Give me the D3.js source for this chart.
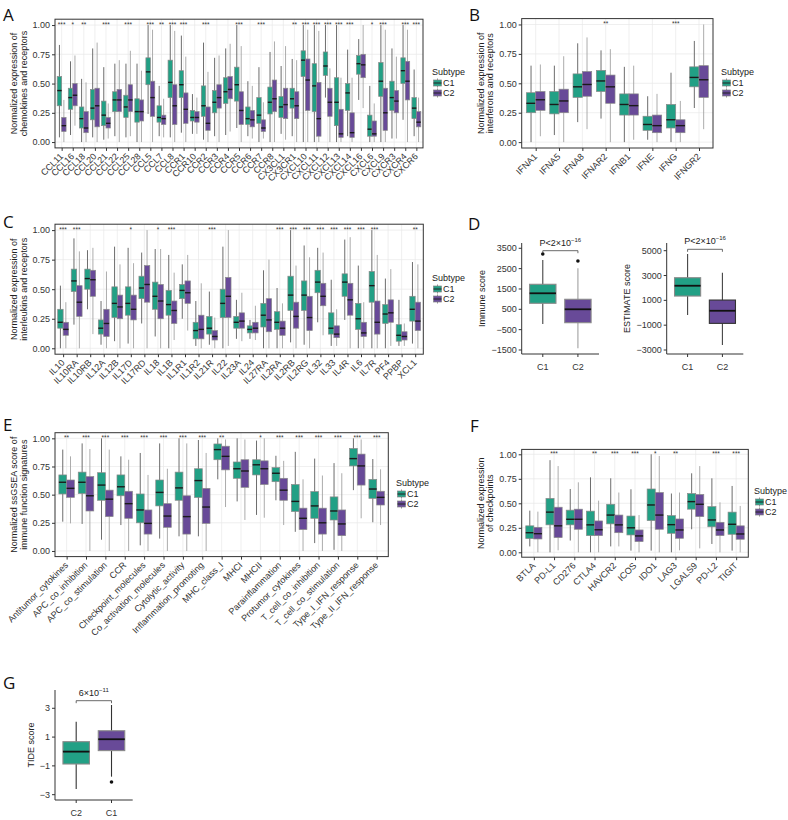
<!DOCTYPE html>
<html><head><meta charset="utf-8">
<script src="https://cdn.jsdelivr.net/npm/d3@7"></script>
<style>
body{margin:0;background:#fff}
svg{display:block}
text{font-family:"Liberation Sans",Arial,Helvetica,sans-serif}
</style>
</head><body>
<svg id="fig" width="788" height="820"></svg>
<script>
// ---------------- DATA ----------------
// each stat = [lower whisker, Q1, median, Q3, upper whisker]
const chemoCats = ["CCL11","CCL16","CCL18","CCL20","CCL21","CCL22","CCL25","CCL28","CCL5","CCL7","CCL8","CCR1","CCR10","CCR2","CCR3","CCR4","CCR5","CCR6","CCR7","CCR8","CX3CL1","CX3CR1","CXCL10","CXCL11","CXCL12","CXCL13","CXCL14","CXCL16","CXCL6","CXCL9","CXCR3","CXCR4","CXCR6"];
const chemoC1 = [[0.04,0.31,0.44,0.56,0.83],[0.06,0.28,0.38,0.46,0.69],[0.0,0.12,0.20,0.30,0.54],[0.04,0.19,0.29,0.45,0.80],[0.02,0.14,0.23,0.35,0.64],[0.05,0.26,0.36,0.43,0.67],[0.04,0.21,0.30,0.40,0.67],[0.0,0.17,0.26,0.37,0.67],[0.24,0.49,0.60,0.72,1.0],[0.05,0.17,0.21,0.31,0.48],[0.04,0.38,0.51,0.70,1.0],[0.08,0.38,0.49,0.61,0.91],[0.07,0.18,0.21,0.27,0.41],[0.02,0.22,0.31,0.48,0.85],[0.05,0.25,0.34,0.44,0.72],[0.06,0.33,0.43,0.55,0.80],[0.12,0.35,0.49,0.64,1.0],[0.05,0.15,0.20,0.30,0.52],[0.0,0.16,0.23,0.38,0.64],[0.0,0.24,0.34,0.47,0.77],[0.07,0.21,0.30,0.39,0.65],[0.05,0.29,0.37,0.46,0.71],[0.0,0.56,0.70,0.78,1.0],[0.0,0.26,0.48,0.67,1.0],[0.38,0.57,0.65,0.77,1.0],[0.0,0.14,0.34,0.55,1.0],[0.05,0.27,0.42,0.50,0.79],[0.36,0.58,0.67,0.74,0.88],[0.0,0.05,0.11,0.23,0.48],[0.0,0.39,0.52,0.68,1.0],[0.03,0.27,0.38,0.52,0.80],[0.19,0.50,0.61,0.72,1.0],[0.05,0.20,0.29,0.38,0.62]];
const chemoC2 = [[0.0,0.09,0.14,0.21,0.36],[0.14,0.31,0.40,0.50,0.74],[0.0,0.08,0.12,0.26,0.51],[0.0,0.13,0.31,0.46,0.85],[0.03,0.12,0.16,0.21,0.33],[0.0,0.26,0.36,0.45,0.70],[0.05,0.26,0.36,0.49,0.78],[0.0,0.18,0.26,0.36,0.61],[0.0,0.22,0.38,0.52,0.96],[0.04,0.15,0.20,0.23,0.37],[0.0,0.15,0.31,0.49,0.95],[0.0,0.16,0.28,0.42,0.73],[0.07,0.17,0.21,0.26,0.38],[0.0,0.10,0.16,0.30,0.60],[0.0,0.29,0.38,0.49,0.74],[0.09,0.37,0.45,0.56,0.84],[0.0,0.15,0.27,0.43,0.82],[0.03,0.13,0.19,0.27,0.48],[0.03,0.09,0.12,0.19,0.34],[0.0,0.26,0.37,0.53,0.86],[0.02,0.20,0.32,0.46,0.82],[0.0,0.20,0.31,0.43,0.70],[0.0,0.27,0.53,0.71,0.96],[0.0,0.05,0.20,0.51,0.95],[0.0,0.22,0.34,0.46,0.63],[0.0,0.04,0.07,0.28,0.55],[0.0,0.04,0.08,0.25,0.55],[0.29,0.55,0.66,0.75,1.0],[0.0,0.05,0.07,0.18,0.33],[0.0,0.10,0.25,0.46,0.96],[0.03,0.25,0.35,0.44,0.73],[0.0,0.36,0.52,0.69,0.96],[0.0,0.13,0.17,0.26,0.38]];
const chemoSig = ["***","*","**","","***","","***","","***","**","***","***","","***","","","***","","***","","","**","***","***","***","***","***","","*","***","","***","***"];

const ifnCats = ["IFNA1","IFNA5","IFNA8","IFNAR2","IFNB1","IFNE","IFNG","IFNGR2"];
const ifnC1 = [[0.0,0.25,0.33,0.42,0.65],[0.06,0.24,0.32,0.43,0.65],[0.17,0.38,0.47,0.58,0.84],[0.20,0.43,0.52,0.61,0.78],[0.0,0.23,0.32,0.41,0.64],[0.02,0.10,0.15,0.22,0.39],[0.0,0.12,0.19,0.32,0.59],[0.29,0.47,0.55,0.64,0.86]];
const ifnC2 = [[0.05,0.27,0.36,0.43,0.66],[0.0,0.25,0.35,0.45,0.73],[0.11,0.39,0.49,0.60,0.89],[0.0,0.33,0.47,0.57,0.79],[0.02,0.23,0.31,0.41,0.65],[0.0,0.08,0.14,0.23,0.41],[0.0,0.08,0.14,0.19,0.35],[0.11,0.38,0.53,0.65,1.0]];
const ifnSig = ["","","","**","","","***",""];

const ilCats = ["IL10","IL10RA","IL10RB","IL12A","IL12B","IL17D","IL17RD","IL18","IL1B","IL1R1","IL1R2","IL21R","IL22","IL23A","IL24","IL27RA","IL2RA","IL2RB","IL2RG","IL32","IL33","IL4R","IL6","IL7R","PF4","PPBP","XCL1"];
const ilC1 = [[0.0,0.17,0.22,0.33,0.53],[0.20,0.48,0.57,0.67,0.93],[0.33,0.50,0.59,0.67,0.83],[0.03,0.12,0.17,0.24,0.40],[0.06,0.26,0.38,0.52,0.86],[0.04,0.28,0.38,0.52,0.85],[0.21,0.42,0.51,0.61,0.81],[0.10,0.33,0.44,0.56,0.84],[0.0,0.28,0.37,0.49,0.79],[0.25,0.42,0.49,0.54,0.71],[0.02,0.08,0.15,0.22,0.40],[0.03,0.12,0.17,0.27,0.48],[0.0,0.26,0.38,0.50,0.86],[0.08,0.17,0.22,0.27,0.41],[0.08,0.13,0.16,0.19,0.24],[0.0,0.18,0.28,0.38,0.66],[0.0,0.16,0.22,0.31,0.51],[0.05,0.32,0.45,0.61,1.0],[0.03,0.32,0.45,0.57,0.87],[0.22,0.47,0.56,0.66,0.85],[0.02,0.12,0.17,0.30,0.58],[0.24,0.44,0.56,0.63,0.92],[0.0,0.16,0.25,0.38,0.70],[0.0,0.39,0.53,0.65,1.0],[0.0,0.21,0.29,0.37,0.59],[0.02,0.06,0.11,0.20,0.41],[0.04,0.23,0.33,0.44,0.73]];
const ilC2 = [[0.0,0.11,0.16,0.22,0.39],[0.0,0.27,0.39,0.53,0.82],[0.12,0.44,0.58,0.66,0.85],[0.0,0.10,0.21,0.33,0.65],[0.0,0.25,0.35,0.45,0.71],[0.0,0.24,0.33,0.45,0.72],[0.0,0.39,0.54,0.70,1.0],[0.0,0.25,0.40,0.54,0.84],[0.07,0.21,0.32,0.40,0.64],[0.15,0.38,0.47,0.57,0.79],[0.0,0.08,0.16,0.28,0.55],[0.0,0.07,0.10,0.15,0.26],[0.02,0.26,0.44,0.60,1.0],[0.06,0.17,0.23,0.30,0.47],[0.07,0.13,0.17,0.22,0.36],[0.0,0.14,0.24,0.42,0.75],[0.0,0.11,0.17,0.23,0.38],[0.0,0.17,0.27,0.39,0.70],[0.0,0.15,0.26,0.44,0.77],[0.11,0.36,0.44,0.55,0.81],[0.02,0.09,0.12,0.19,0.33],[0.0,0.28,0.41,0.55,0.94],[0.0,0.10,0.13,0.22,0.39],[0.0,0.12,0.22,0.40,0.79],[0.02,0.22,0.30,0.41,0.67],[0.02,0.07,0.10,0.14,0.21],[0.0,0.15,0.23,0.39,0.71]];
const ilSig = ["***","***","","","","*","","*","***","","","***","","","","","***","***","***","***","***","***","***","***","","","**"];

const immCats = ["Antitumor_cytokines","APC_co_inhibition","APC_co_stimulation","CCR","Checkpoint_molecules","Co_activation_molecules","Cytolytic_activity","Inflammation_promoting","MHC_class_I","MHCI","MHCII","Parainflammation","Protumor_cytokines","T_cell_co_inhibition","T_cell_co_stimulation","Type_I_IFN_response","Type_II_IFN_response"];
const immC1 = [[0.26,0.506,0.61,0.675,0.90],[0.24,0.51,0.61,0.70,0.955],[0.10,0.45,0.585,0.695,1.0],[0.23,0.49,0.57,0.675,0.84],[0.05,0.25,0.364,0.506,0.87],[0.11,0.40,0.52,0.63,0.955],[0.13,0.45,0.56,0.70,1.0],[0.13,0.475,0.625,0.73,0.985],[0.636,0.81,0.90,0.95,1.0],[0.44,0.645,0.73,0.79,1.0],[0.32,0.675,0.765,0.81,0.98],[0.45,0.615,0.69,0.74,0.845],[0.17,0.35,0.44,0.59,0.88],[0.07,0.29,0.40,0.527,0.82],[0.01,0.275,0.355,0.48,0.78],[0.54,0.755,0.82,0.91,1.0],[0.255,0.467,0.55,0.636,0.816]];
const immC2 = [[0.245,0.476,0.556,0.63,0.84],[0.0,0.355,0.49,0.66,0.905],[0.0,0.305,0.46,0.54,0.90],[0.0,0.29,0.42,0.53,0.81],[0.0,0.15,0.245,0.364,0.675],[0.0,0.21,0.31,0.42,0.73],[0.0,0.15,0.305,0.49,0.955],[0.0,0.245,0.39,0.556,0.87],[0.39,0.72,0.84,0.93,0.99],[0.275,0.565,0.71,0.81,0.99],[0.295,0.59,0.73,0.80,1.0],[0.23,0.45,0.54,0.645,0.80],[0.0,0.19,0.29,0.38,0.636],[0.0,0.15,0.25,0.38,0.67],[0.0,0.136,0.24,0.364,0.69],[0.29,0.585,0.755,0.86,0.99],[0.23,0.408,0.476,0.53,0.725]];
const immSig = ["**","***","***","***","***","***","***","***","**","","*","***","***","***","***","***","***"];

const ckCats = ["BTLA","PD-L1","CD276","CTLA4","HAVCR2","ICOS","IDO1","LAG3","LGALS9","PD-L2","TIGIT"];
const ckC1 = [[0.06,0.14,0.20,0.27,0.425],[0.0,0.28,0.41,0.55,0.94],[0.12,0.28,0.337,0.43,0.646],[0.0,0.17,0.28,0.42,0.765],[0.06,0.29,0.38,0.49,0.755],[0.017,0.177,0.25,0.37,0.643],[0.017,0.323,0.483,0.646,1.0],[0.0,0.194,0.282,0.374,0.60],[0.235,0.44,0.517,0.60,0.806],[0.085,0.26,0.33,0.466,0.755],[0.017,0.184,0.286,0.41,0.677]];
const ckC2 = [[0.0,0.136,0.19,0.255,0.415],[0.02,0.15,0.27,0.46,0.88],[0.0,0.235,0.337,0.44,0.714],[0.0,0.17,0.23,0.32,0.527],[0.06,0.20,0.28,0.38,0.61],[0.0,0.109,0.167,0.228,0.38],[0.0,0.235,0.38,0.61,0.983],[0.02,0.143,0.228,0.34,0.61],[0.04,0.364,0.49,0.59,0.88],[0.0,0.17,0.228,0.306,0.51],[0.0,0.133,0.187,0.27,0.473]];
const ckSig = ["","***","","**","***","***","*","**","","***","***"];

const scoreCats = ["C1","C2"];
const immuneScore = [[-222,796,1288,1730,2925],[-1417,-158,501,993,2517]];
const immuneOut = [[3220],[2876]];
const immuneTicks = [3500,2500,1500,500,-500,-1500];
const estimateScore = [[-185,1347,2177,2823,4734],[-2605,-855,161,1024,3226]];
const estimateOut = [[],[]];
const estimateTicks = [5000,3000,1000,-1000,-3000];

const tideCats = ["C2","C1"];
const tideScore = [[-2.6,-0.87,-0.01,0.68,2.07],[-1.75,0.06,0.85,1.44,3.23]];
const tideOut = [[],[-2.12]];
const tideTicks = [3,1,-1,-3];

const yTicks01 = [0,0.25,0.5,0.75,1];

// ---------------- DRAW ----------------
const COL1 = "#22a085", COL2 = "#684a98";
const svg = d3.select("#fig");

function letter(t,x,y){
  svg.append("text").attr("x",x).attr("y",y).text(t)
    .attr("font-size",17).style("font-family","'Open Sans',Lato,sans-serif").attr("fill","#111");
}

function legend(lx,ly){
  const g=svg.append("g");
  g.append("text").attr("x",lx).attr("y",ly+3).text("Subtype").attr("font-size",9).attr("fill","#222");
  [[COL1,"C1"],[COL2,"C2"]].forEach(([c,t],i)=>{
    const cy=ly+11+i*10;
    g.append("line").attr("x1",lx+5.5).attr("x2",lx+5.5).attr("y1",cy-4.5).attr("y2",cy+4.5).attr("stroke","#777").attr("stroke-width",0.8);
    g.append("rect").attr("x",lx+1.5).attr("y",cy-3).attr("width",8).attr("height",6).attr("fill",c).attr("stroke","#888").attr("stroke-width",0.7);
    g.append("line").attr("x1",lx+1.5).attr("x2",lx+9.5).attr("y1",cy).attr("y2",cy).attr("stroke","#222").attr("stroke-width",1);
    g.append("text").attr("x",lx+11).attr("y",cy+3.2).text(t).attr("font-size",9).attr("fill","#222");
  });
}

function grouped(o){
  const g=svg.append("g");
  const x=d3.scalePoint().domain(o.cats).range([o.x0,o.x1]).padding(0.6);
  const y=d3.scaleLinear().domain([-0.05,1.05]).range([o.y1,o.y0]);
  const bw=x.step()*0.4;
  g.append("rect").attr("x",o.x0).attr("y",o.y0).attr("width",o.x1-o.x0).attr("height",o.y1-o.y0).attr("fill","#fff");
  g.selectAll(".hg").data(yTicks01).join("line")
    .attr("x1",o.x0).attr("x2",o.x1).attr("y1",d=>y(d)).attr("y2",d=>y(d))
    .attr("stroke","#e8e8e8").attr("stroke-width",0.7);
  g.selectAll(".vg").data(o.cats).join("line")
    .attr("x1",d=>x(d)).attr("x2",d=>x(d)).attr("y1",o.y0).attr("y2",o.y1)
    .attr("stroke","#e8e8e8").attr("stroke-width",0.7);
  o.cats.forEach((c,i)=>{
    [[o.s1[i],COL1,-1,"#5c5c5c"],[o.s2[i],COL2,1,"#a3a3a3"]].forEach(([s,col,side,wc])=>{
      const cx=x(c)+side*bw/2;
      g.append("line").attr("x1",cx).attr("x2",cx).attr("y1",y(s[0])).attr("y2",y(s[4]))
        .attr("stroke",wc).attr("stroke-width",0.9);
      g.append("rect").attr("x",cx-bw/2).attr("width",bw).attr("y",y(s[3])).attr("height",y(s[1])-y(s[3]))
        .attr("fill",col).attr("stroke","#8a8a8a").attr("stroke-width",0.7);
      g.append("line").attr("x1",cx-bw/2).attr("x2",cx+bw/2).attr("y1",y(s[2])).attr("y2",y(s[2]))
        .attr("stroke","#1a1a1a").attr("stroke-width",1.4);
    });
    if(o.sig[i]) g.append("text").attr("x",x(c)).attr("y",y(1)+1.8).attr("text-anchor","middle")
      .attr("font-size",6.5).attr("fill","#333").text(o.sig[i]);
  });
  g.append("rect").attr("x",o.x0).attr("y",o.y0).attr("width",o.x1-o.x0).attr("height",o.y1-o.y0)
    .attr("fill","none").attr("stroke","#333").attr("stroke-width",1);
  // y axis
  const ya=g.append("g").attr("transform",`translate(${o.x0},0)`)
    .call(d3.axisLeft(y).tickValues(yTicks01).tickFormat(d3.format(".2f")).tickSize(3).tickPadding(2));
  ya.select(".domain").remove();
  ya.selectAll("line").attr("stroke","#333");
  ya.selectAll("text").attr("font-size",9).attr("fill","#333").style("font-family","'Liberation Sans',Arial,sans-serif");
  // x axis
  const xa=g.append("g").attr("transform",`translate(0,${o.y1})`)
    .call(d3.axisBottom(x).tickSize(3).tickFormat(""));
  xa.select(".domain").remove();
  xa.selectAll("line").attr("stroke","#333");
  o.cats.forEach(c=>{
    g.append("text").attr("transform",`translate(${x(c)-2.5},${o.y1+4.5}) rotate(-45)`)
      .attr("text-anchor","end").attr("dy","0.72em").attr("font-size",9).attr("fill","#333").text(c);
  });
  // y title
  const cy=(o.y0+o.y1)/2;
  o.title.forEach((t,k)=>{
    g.append("text").attr("transform",`translate(${o.tx[k]},${cy}) rotate(-90)`)
      .attr("text-anchor","middle").attr("font-size",9).attr("fill","#222").text(t);
  });
  legend(o.lx,o.ly);
  letter(o.letter,o.Lx,o.Ly);
}

function single(o){
  const g=svg.append("g");
  const x=d3.scalePoint().domain(o.cats).range([o.ax,o.axEnd]).padding(0.6);
  const y=d3.scaleLinear().domain(o.domain).range([o.ayB,o.ayT]);
  const bw=x.step()*0.75;
  o.stats.forEach((s,i)=>{
    const cx=x(o.cats[i]);
    g.append("line").attr("x1",cx).attr("x2",cx).attr("y1",y(s[0])).attr("y2",y(s[4]))
      .attr("stroke",o.wcol[i]).attr("stroke-width",1.1);
    g.append("rect").attr("x",cx-bw/2).attr("width",bw).attr("y",y(s[3])).attr("height",y(s[1])-y(s[3]))
      .attr("fill",o.cols[i]).attr("stroke",o.bcol[i]).attr("stroke-width",1.1);
    g.append("line").attr("x1",cx-bw/2).attr("x2",cx+bw/2).attr("y1",y(s[2])).attr("y2",y(s[2]))
      .attr("stroke","#111").attr("stroke-width",1.8);
    o.out[i].forEach(v=>{
      g.append("circle").attr("cx",cx).attr("cy",y(v)).attr("r",1.8).attr("fill","#111");
    });
  });
  g.append("line").attr("x1",o.ax).attr("x2",o.ax).attr("y1",o.ayT).attr("y2",o.ayB).attr("stroke","#333").attr("stroke-width",1);
  g.append("line").attr("x1",o.ax).attr("x2",o.axEnd).attr("y1",o.ayB).attr("y2",o.ayB).attr("stroke","#333").attr("stroke-width",1);
  o.ticks.forEach(t=>{
    g.append("line").attr("x1",o.ax-3).attr("x2",o.ax).attr("y1",y(t)).attr("y2",y(t)).attr("stroke","#333");
    g.append("text").attr("x",o.ax-5).attr("y",y(t)).attr("dy","0.35em").attr("text-anchor","end")
      .attr("font-size",9).attr("fill","#333").text(d3.format("d")(t));
  });
  o.cats.forEach(c=>{
    g.append("line").attr("x1",x(c)).attr("x2",x(c)).attr("y1",o.ayB).attr("y2",o.ayB+3).attr("stroke","#333");
    g.append("text").attr("x",x(c)).attr("y",o.ayB+16).attr("text-anchor","middle")
      .attr("font-size",9).attr("fill","#333").text(c);
  });
  g.append("text").attr("transform",`translate(${o.tx},${(o.ayT+o.ayB)/2}) rotate(-90)`)
    .attr("text-anchor","middle").attr("font-size",9).attr("fill","#222").text(o.title);
  // bracket
  const xa=x(o.cats[0]), xb=x(o.cats[1]);
  g.append("path").attr("d",`M${xa},${o.by+2.5}V${o.by}H${xb}V${o.by+2.5}`)
    .attr("fill","none").attr("stroke","#444").attr("stroke-width",0.8);
  const pt=g.append("text").attr("x",(xa+xb)/2).attr("y",o.by-5).attr("text-anchor","middle")
    .attr("font-size",9).attr("fill","#222");
  pt.append("tspan").text(o.p[0]);
  pt.append("tspan").attr("dy",-4).attr("font-size",6).text(o.p[1]);
}

// Panel A
grouped({cats:chemoCats,s1:chemoC1,s2:chemoC2,sig:chemoSig,x0:55,x1:423,y0:19.2,y1:147.9,
  title:["Normalized expression of","chemokines and receptors"],tx:[17,27],lx:432,ly:72,letter:"A",Lx:3,Ly:21});
// Panel B
grouped({cats:ifnCats,s1:ifnC1,s2:ifnC2,sig:ifnSig,x0:521.7,x1:713,y0:18.6,y1:148,
  title:["Normalized expression of","interferons and receptors"],tx:[483.5,493],lx:721,ly:72,letter:"B",Lx:469,Ly:21});
// Panel C
grouped({cats:ilCats,s1:ilC1,s2:ilC2,sig:ilSig,x0:55,x1:423.3,y0:224.2,y1:354.2,
  title:["Normalized expression of","interleukins and receptors"],tx:[17,27],lx:432,ly:278,letter:"C",Lx:3,Ly:228});
// Panel E
grouped({cats:immCats,s1:immC1,s2:immC2,sig:immSig,x0:55,x1:388.3,y0:432.7,y1:556.6,
  title:["Normalized ssGSEA score of","immune function signatures"],tx:[17,27],lx:396,ly:483,letter:"E",Lx:3,Ly:431});
// Panel F
grouped({cats:ckCats,s1:ckC1,s2:ckC2,sig:ckSig,x0:521.7,x1:748.3,y0:449.4,y1:557.2,
  title:["Normalized expression","of checkpoints"],tx:[483.5,493],lx:754,ly:491,letter:"F",Lx:470,Ly:432});

// Panel D
single({cats:scoreCats,stats:immuneScore,out:immuneOut,ticks:immuneTicks,domain:[-1697,3760],
  ax:521.7,axEnd:599,ayT:243,ayB:354,cols:[COL1,COL2],bcol:["#8a8a8a","#8a8a8a"],wcol:["#444","#a0a0a0"],
  title:"Immune score",tx:485,by:250.7,p:["P<2×10","−16"]});
single({cats:scoreCats,stats:estimateScore,out:estimateOut,ticks:estimateTicks,domain:[-3322,5620],
  ax:666.7,axEnd:743.3,ayT:243,ayB:354,cols:[COL1,COL2],bcol:["#8a8a8a","#333"],wcol:["#444","#444"],
  title:"ESTIMATE score",tx:629.5,by:249.3,p:["P<2×10","−16"]});
letter("D",468,230);

// Panel G
single({cats:tideCats,stats:tideScore,out:tideOut,ticks:tideTicks,domain:[-3.37,4.27],
  ax:55,axEnd:132.7,ayT:690,ayB:800,cols:[COL1,COL2],bcol:["#8a8a8a","#8a8a8a"],wcol:["#333","#333"],
  title:"TIDE score",tx:33.5,by:700.7,p:["6×10","−11"]});
letter("G",3,689);
</script>
</body></html>
